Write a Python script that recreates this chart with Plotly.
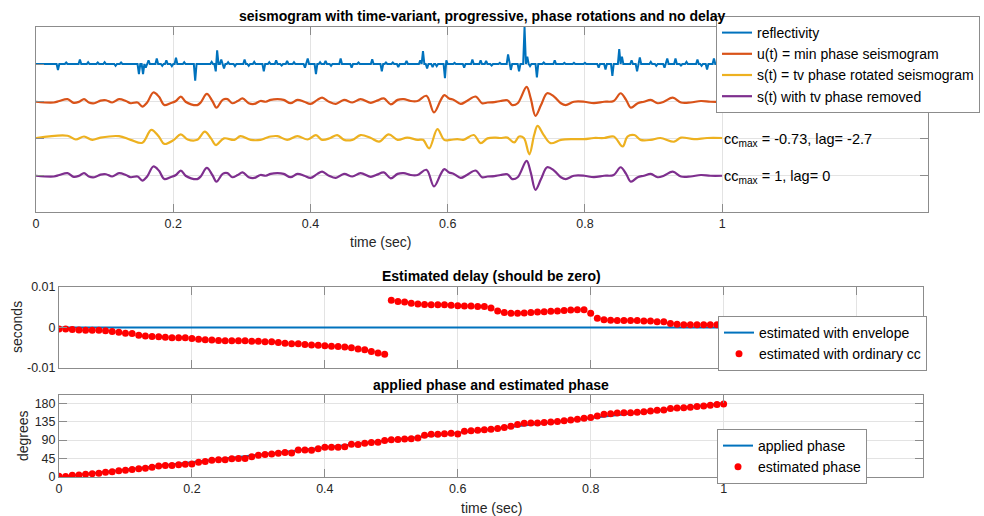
import numpy as np
import plotly.graph_objects as go

# ---------------- data ----------------
# reflectivity spikes (time in s, amplitude)
refl_times = [0.031, 0.045, 0.063, 0.075, 0.090, 0.100, 0.115, 0.125, 0.150, 0.155,
              0.160, 0.165, 0.176, 0.183, 0.190, 0.198, 0.205, 0.215, 0.233, 0.255,
              0.262, 0.264, 0.270, 0.274, 0.280, 0.290, 0.303, 0.310, 0.318, 0.332,
              0.340, 0.351, 0.358, 0.366, 0.375, 0.391, 0.397, 0.408, 0.415, 0.422,
              0.430, 0.444, 0.460, 0.470, 0.490, 0.504, 0.510, 0.520, 0.529, 0.540,
              0.561, 0.564, 0.570, 0.578, 0.583, 0.595, 0.598, 0.610, 0.624, 0.636,
              0.648, 0.657, 0.665, 0.675, 0.688, 0.692, 0.704, 0.711, 0.716, 0.720,
              0.730, 0.740, 0.757, 0.770, 0.785, 0.800, 0.820, 0.830, 0.840, 0.850,
              0.854, 0.867, 0.876, 0.880, 0.896, 0.905, 0.915, 0.919, 0.932, 0.940,
              0.949, 0.963, 0.970, 0.978, 0.988, 0.995]
refl_amps = [-0.16, 0.04, 0.12, 0.05, 0.04, 0.05, -0.05, 0.04, -0.27, -0.27,
             -0.10, 0.10, 0.15, -0.05, 0.10, -0.06, 0.17, 0.05, -0.45, 0.06,
             -0.20, 0.37, 0.12, -0.12, 0.05, -0.06, 0.12, -0.05, 0.06, -0.20,
             0.05, 0.10, -0.04, 0.08, 0.05, -0.10, 0.15, -0.27, 0.05, 0.08,
             -0.05, 0.15, -0.10, 0.04, 0.13, -0.20, 0.04, 0.04, -0.08, 0.08,
             0.10, 0.35, -0.12, -0.08, -0.06, -0.38, 0.10, 0.03, -0.10, 0.12,
             0.10, 0.08, -0.04, 0.03, 0.26, -0.16, -0.20, 1.00, 0.20, -0.06,
             -0.36, 0.04, 0.10, 0.03, 0.03, 0.03, -0.10, -0.15, -0.32, 0.40,
             0.20, 0.10, -0.20, 0.18, 0.06, -0.05, -0.10, 0.15, 0.15, -0.04,
             0.06, 0.12, -0.05, -0.15, 0.15, 0.10]

# u(t): minimum-phase seismogram, wiggle extremes (time, amplitude)
u_times = [0.000, 0.026, 0.034, 0.046, 0.055, 0.063, 0.070, 0.077, 0.085, 0.094,
           0.102, 0.111, 0.121, 0.131, 0.138, 0.148, 0.155, 0.162, 0.171, 0.179,
           0.187, 0.196, 0.204, 0.211, 0.218, 0.226, 0.235, 0.240, 0.249, 0.257,
           0.263, 0.272, 0.279, 0.286, 0.294, 0.301, 0.310, 0.318, 0.327, 0.335,
           0.342, 0.352, 0.361, 0.371, 0.381, 0.391, 0.400, 0.410, 0.417, 0.427,
           0.437, 0.449, 0.461, 0.473, 0.488, 0.497, 0.507, 0.517, 0.527, 0.536,
           0.546, 0.556, 0.569, 0.580, 0.590, 0.595, 0.602, 0.609, 0.619, 0.628,
           0.641, 0.650, 0.658, 0.668, 0.677, 0.687, 0.694, 0.702, 0.715, 0.721,
           0.728, 0.736, 0.745, 0.755, 0.765, 0.772, 0.784, 0.799, 0.813, 0.828,
           0.842, 0.852, 0.860, 0.867, 0.877, 0.886, 0.896, 0.906, 0.915, 0.928,
           0.940, 0.954, 0.969, 0.983, 1.000]
u_amps = [-0.02, -0.04, 0.00, 0.05, -0.05, -0.02, 0.05, -0.04, -0.06, 0.01,
          0.02, -0.04, 0.05, 0.00, -0.06, -0.04, -0.15, -0.04, 0.23, 0.12,
          -0.11, -0.06, 0.00, 0.12, -0.02, -0.09, -0.11, -0.04, 0.19, 0.00,
          -0.18, 0.03, 0.05, -0.06, 0.00, 0.07, -0.06, -0.08, 0.00, -0.02,
          0.03, 0.05, 0.03, -0.06, 0.03, -0.02, -0.08, 0.03, 0.09, -0.02,
          -0.08, 0.03, -0.04, 0.05, -0.05, 0.01, 0.07, -0.09, 0.03, 0.05,
          0.00, 0.00, 0.14, -0.31, 0.03, 0.16, 0.07, 0.03, -0.08, 0.00,
          0.12, -0.06, -0.04, -0.03, 0.00, 0.02, -0.11, -0.06, 0.38, 0.07,
          -0.40, -0.11, 0.21, 0.12, -0.06, -0.11, -0.02, -0.02, -0.06, -0.02,
          0.00, 0.21, 0.03, -0.18, -0.06, -0.02, 0.03, -0.06, -0.02, 0.09,
          -0.04, -0.04, 0.00, -0.02, -0.02]

# s(t): time-variant phase rotated seismogram, wiggle extremes
s_times = [0.000, 0.046, 0.058, 0.070, 0.082, 0.094, 0.121, 0.138, 0.155, 0.168,
           0.179, 0.187, 0.201, 0.211, 0.221, 0.235, 0.246, 0.255, 0.262, 0.274,
           0.289, 0.298, 0.313, 0.327, 0.335, 0.342, 0.352, 0.366, 0.381, 0.396,
           0.408, 0.417, 0.429, 0.439, 0.449, 0.461, 0.473, 0.488, 0.500, 0.514,
           0.527, 0.541, 0.556, 0.564, 0.573, 0.585, 0.595, 0.604, 0.614, 0.623,
           0.638, 0.648, 0.658, 0.670, 0.677, 0.687, 0.697, 0.704, 0.711, 0.719,
           0.726, 0.731, 0.740, 0.750, 0.765, 0.784, 0.799, 0.813, 0.828, 0.842,
           0.855, 0.862, 0.872, 0.881, 0.896, 0.910, 0.930, 0.940, 0.959, 0.978,
           1.000]
s_amps = [0.00, 0.06, -0.04, 0.04, -0.05, 0.01, 0.05, -0.05, -0.13, 0.22,
          0.04, -0.16, -0.05, 0.10, -0.04, -0.05, 0.17, -0.01, -0.19, -0.01,
          -0.05, 0.05, -0.05, -0.05, 0.00, 0.04, 0.05, -0.05, 0.05, -0.04,
          0.08, -0.05, 0.00, 0.08, -0.05, -0.05, 0.08, 0.00, -0.10, 0.10,
          -0.05, 0.01, -0.05, -0.05, -0.28, 0.24, -0.05, -0.05, -0.03, -0.05,
          0.08, -0.14, -0.01, 0.01, 0.00, 0.01, -0.12, 0.04, 0.00, -0.44,
          0.08, 0.33, 0.08, -0.14, -0.05, -0.03, -0.03, 0.00, 0.00, 0.04,
          -0.23, 0.04, 0.08, -0.05, -0.05, 0.00, -0.10, 0.01, -0.03, 0.00,
          0.00]

trace_offsets = [0, -1, -2, -3]
cc_labels = ["cc<sub>max</sub> = -0.73, lag= -2.7", "cc<sub>max</sub> = 1, lag= 0"]

# window centres and estimates
win_times = [round(0.01 * k, 2) for k in range(101)]
delay_cc = [-0.0004, -0.0004, -0.0005, -0.0006, -0.0007, -0.0007, -0.0007, -0.0008, -0.0010, -0.0012,
            -0.0014, -0.0015, -0.0019, -0.0021, -0.0022, -0.0023, -0.0024, -0.0025, -0.0025, -0.0025,
            -0.0027, -0.0029, -0.0030, -0.0031, -0.0032, -0.0033, -0.0033, -0.0033, -0.0033, -0.0034,
            -0.0034, -0.0035, -0.0035, -0.0037, -0.0039, -0.0040, -0.0040, -0.0042, -0.0043, -0.0044,
            -0.0045, -0.0046, -0.0047, -0.0048, -0.0050, -0.0053, -0.0055, -0.0059, -0.0063, -0.0066,
            0.0067, 0.0064, 0.0063, 0.0060, 0.0058, 0.0057, 0.0056, 0.0056, 0.0056, 0.0055,
            0.0054, 0.0053, 0.0053, 0.0052, 0.0052, 0.0048, 0.0041, 0.0037, 0.0035, 0.0035,
            0.0036, 0.0037, 0.0038, 0.0039, 0.0040, 0.0041, 0.0042, 0.0043, 0.0044, 0.0044,
            0.0035, 0.0023, 0.0019, 0.0018, 0.0017, 0.0017, 0.0017, 0.0017, 0.0016, 0.0016,
            0.0014, 0.0014, 0.0010, 0.0008, 0.0007, 0.0007, 0.0007, 0.0007, 0.0007, 0.0007,
            0.0005]
delay_env_t = [0, 1]
delay_env = [0, 0]

phase_applied_t = [0, 1]
phase_applied = [0, 180]
phase_est = [1.7, 1.0, 4.0, 5.0, 6.6, 8.0, 9.0, 11.6, 13.0, 15.0,
             16.5, 18.0, 20.0, 21.5, 24.0, 27.0, 28.0, 28.0, 30.0, 31.0,
             32.0, 36.0, 38.0, 41.0, 42.0, 42.0, 44.6, 45.0, 45.0, 49.5,
             53.0, 55.0, 56.0, 58.0, 59.5, 58.6, 66.0, 66.0, 65.0, 69.0,
             72.7, 72.7, 72.7, 74.0, 80.0, 79.0, 82.6, 84.0, 85.0, 89.0,
             91.0, 91.7, 92.5, 93.0, 95.0, 102.0, 104.0, 104.0, 105.7, 106.5,
             105.0, 111.5, 113.0, 114.0, 115.0, 116.5, 118.0, 121.0, 124.0, 128.0,
             131.0, 132.0, 132.0, 133.0, 134.0, 135.4, 137.0, 139.0, 141.0, 143.0,
             145.0, 148.6, 153.0, 154.0, 156.0, 157.0, 157.0, 158.0, 159.0, 161.0,
             163.0, 163.5, 167.0, 168.0, 169.0, 170.0, 172.0, 173.0, 175.0, 177.0,
             178.0]

x_ticks = [0, 0.2, 0.4, 0.6, 0.8, 1]
x_ticktext = ["0", "0.2", "0.4", "0.6", "0.8", "1"]

# ---------------- styling ----------------
BLUE, ORANGE, YELLOW, PURPLE = "#0072BD", "#D95319", "#EDB120", "#7E2F8E"
AXIS_C, GRID_C, TXT_C = "#8c8c8c", "#e3e3e3", "#262626"
FONT = "Liberation Sans, Arial, Helvetica, sans-serif"
W, H = 984, 516

def px_x(p):
    return p / W

def px_y(p):
    return 1 - p / H

fig = go.Figure()

# reflectivity sampled at 2 ms, spikes placed on the sample grid
dt = 0.002
n = int(round(1 / dt)) + 1
t_grid = np.arange(n) * dt
refl = np.zeros(n)
for tt, aa in zip(refl_times, refl_amps):
    refl[int(round(tt / dt))] = aa

fig.add_trace(go.Scatter(x=t_grid, y=refl + trace_offsets[0], mode="lines",
                         line=dict(color=BLUE, width=2), name="reflectivity",
                         legend="legend", xaxis="x", yaxis="y"))
fig.add_trace(go.Scatter(x=u_times, y=np.array(u_amps) + trace_offsets[1], mode="lines",
                         line=dict(color=ORANGE, width=2.2, shape="spline", smoothing=1.0),
                         name="u(t) = min phase seismogram", legend="legend", xaxis="x", yaxis="y"))
fig.add_trace(go.Scatter(x=s_times, y=np.array(s_amps) + trace_offsets[2], mode="lines",
                         line=dict(color=YELLOW, width=2.2, shape="spline", smoothing=1.0),
                         name="s(t) = tv phase rotated seismogram", legend="legend", xaxis="x", yaxis="y"))
# after removing the tv phase the trace equals u(t) (cc = 1, lag = 0)
fig.add_trace(go.Scatter(x=u_times, y=np.array(u_amps) + trace_offsets[3], mode="lines",
                         line=dict(color=PURPLE, width=2.2, shape="spline", smoothing=1.0),
                         name="s(t) with tv phase removed", legend="legend", xaxis="x", yaxis="y"))

# delay panel
fig.add_trace(go.Scatter(x=delay_env_t, y=delay_env, mode="lines",
                         line=dict(color=BLUE, width=2), name="estimated with envelope",
                         legend="legend2", xaxis="x2", yaxis="y2"))
fig.add_trace(go.Scatter(x=win_times, y=delay_cc, mode="markers",
                         marker=dict(color="#FF0000", size=7), name="estimated with ordinary cc",
                         legend="legend2", xaxis="x2", yaxis="y2"))

# phase panel
fig.add_trace(go.Scatter(x=phase_applied_t, y=phase_applied, mode="lines",
                         line=dict(color=BLUE, width=2), name="applied phase",
                         legend="legend3", xaxis="x3", yaxis="y3"))
fig.add_trace(go.Scatter(x=win_times, y=phase_est, mode="markers",
                         marker=dict(color="#FF0000", size=7), name="estimated phase",
                         legend="legend3", xaxis="x3", yaxis="y3"))

axis_common = dict(showline=True, linecolor=AXIS_C, linewidth=1, mirror="ticks",
                   ticks="inside", ticklen=8, tickcolor=AXIS_C, tickwidth=1, showgrid=True,
                   gridcolor=GRID_C, gridwidth=1, zeroline=False, automargin=False,
                   tickfont=dict(family=FONT, size=12.5, color=TXT_C))

legend_common = dict(xanchor="left", yanchor="top", bgcolor="white", bordercolor=AXIS_C,
                     borderwidth=1, tracegroupgap=0,
                     font=dict(family=FONT, size=14, color="black"))

fig.update_layout(
    template="none",
    width=W, height=H, margin=dict(l=0, r=0, t=0, b=0, pad=0),
    paper_bgcolor="white", plot_bgcolor="white",
    font=dict(family=FONT, size=12.5, color=TXT_C),
    xaxis=dict(domain=[px_x(36), px_x(928)], range=[0, 1.3], anchor="y",
               tickvals=x_ticks, ticktext=x_ticktext, **axis_common),
    yaxis=dict(domain=[px_y(212), px_y(27)], range=[-4, 1], anchor="x",
               tickvals=[-3, -2, -1, 0], showticklabels=False, **axis_common),
    xaxis2=dict(domain=[px_x(59), px_x(923)], range=[0, 1.3], anchor="y2",
                tickvals=[0, 0.2, 0.4, 0.6, 0.8, 1, 1.2], showticklabels=False, **axis_common),
    yaxis2=dict(domain=[px_y(368), px_y(287)], range=[-0.01, 0.01], anchor="x2",
                tickvals=[-0.01, 0, 0.01], ticktext=["-0.01", "0", "0.01"], **axis_common),
    xaxis3=dict(domain=[px_x(59), px_x(923)], range=[0, 1.3], anchor="y3",
                tickvals=x_ticks, ticktext=x_ticktext, **axis_common),
    yaxis3=dict(domain=[px_y(477), px_y(395)], range=[0, 200], anchor="x3",
                tickvals=[0, 45, 90, 135, 180], **axis_common),
    legend=dict(x=px_x(716), y=px_y(16), **legend_common),
    legend2=dict(x=px_x(718), y=px_y(316), **legend_common),
    legend3=dict(x=px_x(717), y=px_y(429), **legend_common),
    showlegend=True,
)

annotations = []
# panel titles
for txt, cx, cy in [("seismogram with time-variant, progressive, phase rotations and no delay", 482, 16),
                    ("Estimated delay (should be zero)", 491, 276),
                    ("applied phase and estimated phase", 491, 385)]:
    annotations.append(dict(text="<b>%s</b>" % txt, x=px_x(cx), y=px_y(cy), xref="paper", yref="paper",
                            xanchor="center", yanchor="middle", showarrow=False,
                            font=dict(family=FONT, size=14, color="black")))
# axis labels
annotations.append(dict(text="time (sec)", x=px_x(380), y=px_y(242), xref="paper", yref="paper",
                        xanchor="center", yanchor="middle", showarrow=False,
                        font=dict(family=FONT, size=14, color=TXT_C)))
annotations.append(dict(text="time (sec)", x=px_x(491), y=px_y(508), xref="paper", yref="paper",
                        xanchor="center", yanchor="middle", showarrow=False,
                        font=dict(family=FONT, size=14, color=TXT_C)))
annotations.append(dict(text="seconds", x=px_x(17), y=px_y(327), xref="paper", yref="paper",
                        xanchor="center", yanchor="middle", showarrow=False, textangle=-90,
                        font=dict(family=FONT, size=14, color=TXT_C)))
annotations.append(dict(text="degrees", x=px_x(23), y=px_y(436), xref="paper", yref="paper",
                        xanchor="center", yanchor="middle", showarrow=False, textangle=-90,
                        font=dict(family=FONT, size=14, color=TXT_C)))
# correlation labels next to the rotated and corrected traces
for txt, off in zip(cc_labels, trace_offsets[2:]):
    annotations.append(dict(text=txt, x=1.0, y=off, xref="x", yref="y", xanchor="left",
                            yanchor="middle", showarrow=False, yshift=-2,
                            font=dict(family=FONT, size=14.5, color="black")))
fig.update_layout(annotations=annotations)

fig.write_html("out.html")
